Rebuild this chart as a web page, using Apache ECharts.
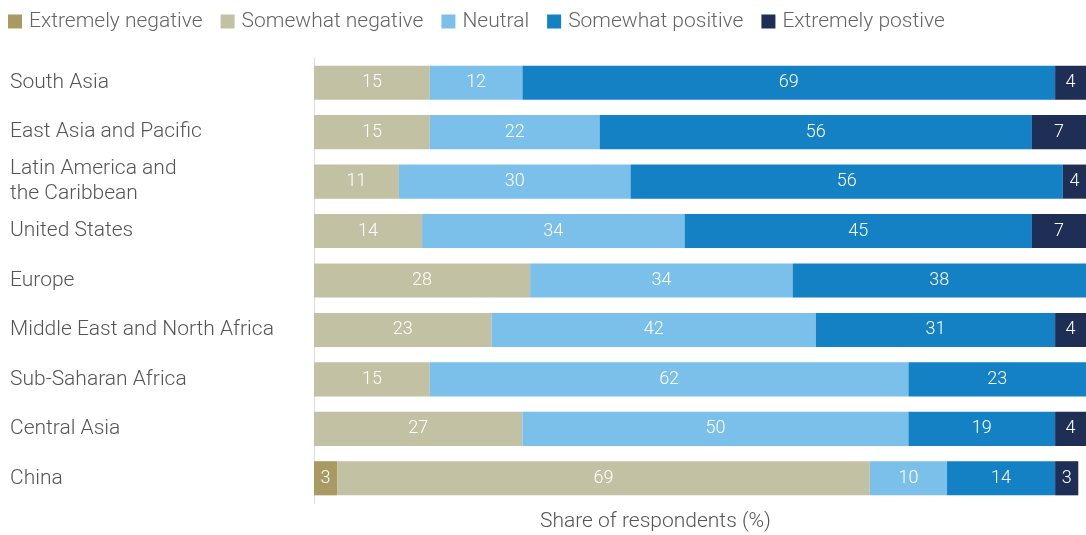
<!DOCTYPE html>
<html>
<head>
<meta charset="utf-8">
<script src="https://cdn.jsdelivr.net/npm/echarts@6/dist/echarts.min.js"></script>
<style>html,body{margin:0;padding:0;background:#fff;}#c{width:1086px;height:535px;}</style>
</head>
<body>
<div id="c"></div>
<script>
const categories = ["South Asia", "East Asia and Pacific", "Latin America and\nthe Caribbean", "United States", "Europe", "Middle East and North Africa", "Sub-Saharan Africa", "Central Asia", "China"];
const seriesNames = ["Extremely negative", "Somewhat negative", "Neutral", "Somewhat positive", "Extremely postive"];
const extremelyNegative = [null, null, null, null, null, null, null, null, 3];
const somewhatNegative = [15, 15, 11, 14, 28, 23, 15, 27, 69];
const neutral = [12, 22, 30, 34, 34, 42, 62, 50, 10];
const somewhatPositive = [69, 56, 56, 45, 38, 31, 23, 19, 14];
const extremelyPositive = [4, 7, 4, 7, null, 4, null, 4, 3];
const colors = ["#a89a62", "#c2c1a3", "#7bc0ea", "#1481c5", "#1f2e54"];
const values = [extremelyNegative, somewhatNegative, neutral, somewhatPositive, extremelyPositive];

const FONT = "Roboto";
const chart = echarts.init(document.getElementById('c'));
chart.setOption({
  animation: false,
  color: colors,
  textStyle: {fontFamily: FONT},
  legend: {
    left: 3, top: 6, itemWidth: 14, itemHeight: 14, itemGap: 18,
    icon: 'rect',
    textStyle: {fontSize: 21, color: '#666', fontWeight: 300, fontFamily: FONT, padding: [0, 0, 0, 2]},
    data: seriesNames
  },
  grid: {left: 314, right: 0, top: 58, height: 445},
  xAxis: {type: 'value', min: 0, max: 100, show: false},
  yAxis: {
    type: 'category', data: categories, inverse: true,
    axisLine: {show: true, lineStyle: {color: '#ddd', width: 1}},
    axisTick: {show: false},
    axisLabel: {align: 'left', margin: 304, fontSize: 21, color: '#555', fontWeight: 300, lineHeight: 25, fontFamily: FONT}
  },
  graphic: [{
    type: 'text', left: 540, top: 511,
    style: {text: 'Share of respondents (%)', fontSize: 21, fill: '#555', fontWeight: 300, fontFamily: FONT}
  }],
  series: seriesNames.map((n, i) => ({
    name: n, type: 'bar', stack: 'all', data: values[i],
    barCategoryGap: '31%',
    itemStyle: {color: colors[i]},
    label: {show: true, position: 'inside', color: '#fff', fontSize: 18, fontWeight: 300, fontFamily: FONT}
  }))
});
</script>
</body>
</html>
